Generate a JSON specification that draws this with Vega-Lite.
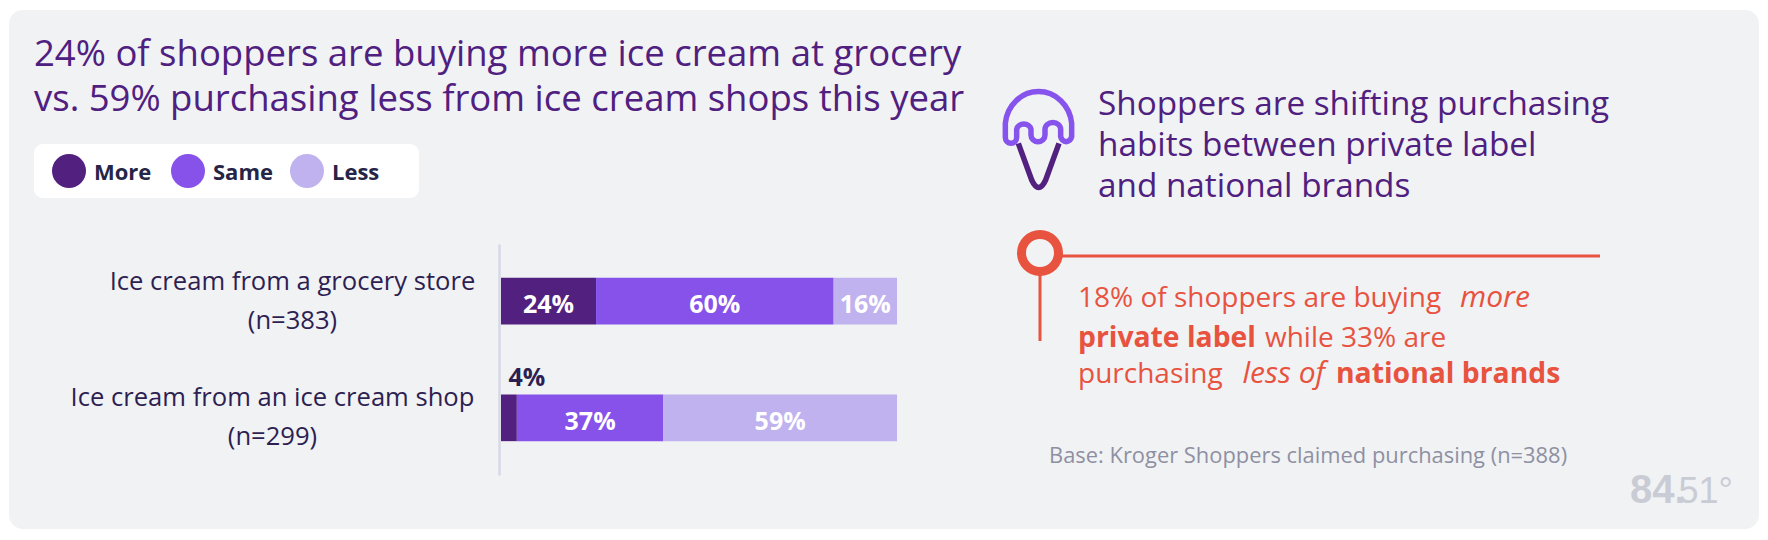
{
"$schema":"https://vega.github.io/schema/vega-lite/v6.json",
"width":1750,"height":519,
"autosize":{"type":"none"},
"padding":{"left":9,"right":9,"top":10,"bottom":11},
"background":"#ffffff",
"view":{"fill":"#f1f2f4","stroke":null,"cornerRadius":14},
"config":{"font":"Open Sans","text":{"align":"left","baseline":"alphabetic"}},
"title":{"text":["24% of shoppers are buying more ice cream at grocery","vs. 59% purchasing less from ice cream shops this year"],"anchor":"start","frame":"group","orient":"top","offset":-137,"dx":25,"font":"Open Sans","fontWeight":"normal","fontSize":36.5,"lineHeight":45,"color":"#4f2080","baseline":"alphabetic"},
"resolve":{"scale":{"x":"independent","y":"independent"},"axis":{"x":"independent","y":"independent"}},
"layer":[
{"data":{"values":[{"note":"annotations"}]},
 "layer":[
 {"mark":{"type":"rect","fill":"#ffffff","cornerRadius":9},"encoding":{"x":{"datum":1.43,"type":"quantitative","scale":{"domain":[0,100],"range":[0,1750]},"axis":null},"x2":{"datum":23.43},"y":{"datum":25.82,"type":"quantitative","scale":{"domain":[0,100],"range":[0,519]},"axis":null},"y2":{"datum":36.22}}},
 {"mark":{"type":"text","text":"Shoppers are shifting purchasing","fontSize":33.3,"fill":"#4f2080"},"encoding":{"x":{"datum":62.229,"type":"quantitative"},"y":{"datum":20.24,"type":"quantitative"}}},
 {"mark":{"type":"text","text":"habits between private label","fontSize":33.3,"fill":"#4f2080"},"encoding":{"x":{"datum":62.229,"type":"quantitative"},"y":{"datum":28.04,"type":"quantitative"}}},
 {"mark":{"type":"text","text":"and national brands","fontSize":33.3,"fill":"#4f2080"},"encoding":{"x":{"datum":62.229,"type":"quantitative"},"y":{"datum":36.04,"type":"quantitative"}}},
 {"mark":{"type":"point","shape":"M-100,0 A100,106 0 0 1 99,0 L99,40 A17,20 0 0 1 66,40 L66,18 A23,20 0 0 0 19,18 L19,35 A21,20 0 0 1 -23,35 L-23,18 A22,20 0 0 0 -66,18 L-66,42 A17,18 0 0 1 -100,42 Z","size":0.4444,"filled":false,"stroke":"#8654ec","strokeWidth":5.5,"opacity":1},"encoding":{"x":{"datum":58.838,"type":"quantitative"},"y":{"datum":21.836,"type":"quantitative"}}},
 {"mark":{"type":"point","shape":"M-61,60 L-21,170 Q0,215 21,170 L61,60","size":0.4444,"filled":false,"stroke":"#52217f","strokeWidth":5.5,"opacity":1},"encoding":{"x":{"datum":58.838,"type":"quantitative"},"y":{"datum":21.836,"type":"quantitative"}}},
 {"mark":{"type":"rule","stroke":"#e8533f","strokeWidth":3},"encoding":{"x":{"datum":59.94,"type":"quantitative"},"x2":{"datum":90.914},"y":{"datum":47.399,"type":"quantitative"}}},
 {"mark":{"type":"rule","stroke":"#e8533f","strokeWidth":3},"encoding":{"x":{"datum":58.914,"type":"quantitative"},"y":{"datum":50.6,"type":"quantitative"},"y2":{"datum":63.776}}},
 {"mark":{"type":"point","shape":"circle","size":1369,"filled":false,"stroke":"#e8533f","strokeWidth":9,"opacity":1},"encoding":{"x":{"datum":58.914,"type":"quantitative"},"y":{"datum":46.821,"type":"quantitative"}}},
 {"mark":{"type":"text","text":"18% of shoppers are buying","fontSize":28,"fill":"#e8533f"},"encoding":{"x":{"datum":61.086,"type":"quantitative"},"y":{"datum":57.225,"type":"quantitative"}}},
 {"mark":{"type":"text","text":"more","fontSize":30,"fontStyle":"italic","fill":"#e8533f"},"encoding":{"x":{"datum":82.914,"type":"quantitative"},"y":{"datum":57.225,"type":"quantitative"}}},
 {"mark":{"type":"text","text":"private label","fontSize":28.3,"fontWeight":"bold","fill":"#e8533f"},"encoding":{"x":{"datum":61.086,"type":"quantitative"},"y":{"datum":64.84,"type":"quantitative"}}},
 {"mark":{"type":"text","text":"while 33% are","fontSize":28,"fill":"#e8533f"},"encoding":{"x":{"datum":71.771,"type":"quantitative"},"y":{"datum":64.84,"type":"quantitative"}}},
 {"mark":{"type":"text","text":"purchasing","fontSize":28,"fill":"#e8533f"},"encoding":{"x":{"datum":61.086,"type":"quantitative"},"y":{"datum":71.87,"type":"quantitative"}}},
 {"mark":{"type":"text","text":"less of","fontSize":30,"fontStyle":"italic","fill":"#e8533f"},"encoding":{"x":{"datum":70.486,"type":"quantitative"},"y":{"datum":71.87,"type":"quantitative"}}},
 {"mark":{"type":"text","text":"national brands","fontSize":28.3,"fontWeight":"bold","fill":"#e8533f"},"encoding":{"x":{"datum":75.829,"type":"quantitative"},"y":{"datum":71.87,"type":"quantitative"}}},
 {"mark":{"type":"text","text":"Base: Kroger Shoppers claimed purchasing (n=388)","fontSize":21.9,"fill":"#8e90a2"},"encoding":{"x":{"datum":59.429,"type":"quantitative"},"y":{"datum":87.283,"type":"quantitative"}}},
 {"mark":{"type":"text","text":"84.","font":"Liberation Sans","fontWeight":"bold","fontSize":40,"fill":"#c9ccd4"},"encoding":{"x":{"datum":92.629,"type":"quantitative"},"y":{"datum":94.99,"type":"quantitative"}}},
 {"mark":{"type":"text","text":"51°","font":"Liberation Sans","fontSize":36,"fill":"#c9ccd4"},"encoding":{"x":{"datum":95.4,"type":"quantitative"},"y":{"datum":94.99,"type":"quantitative"}}}
 ]},
{"data":{"values":[
 {"category":"Ice cream from a grocery store|(n=383)","series":"More","rank":1,"value":24,"label":"24%"},
 {"category":"Ice cream from a grocery store|(n=383)","series":"Same","rank":2,"value":60,"label":"60%"},
 {"category":"Ice cream from a grocery store|(n=383)","series":"Less","rank":3,"value":16,"label":"16%"},
 {"category":"Ice cream from an ice cream shop|(n=299)","series":"More","rank":1,"value":4,"label":"4%"},
 {"category":"Ice cream from an ice cream shop|(n=299)","series":"Same","rank":2,"value":37,"label":"37%"},
 {"category":"Ice cream from an ice cream shop|(n=299)","series":"Less","rank":3,"value":59,"label":"59%"}
 ]},
 "encoding":{
  "y":{"field":"category","type":"nominal","sort":null,"scale":{"type":"band","range":[234,465],"paddingInner":0.6,"paddingOuter":0.29},
   "axis":{"orient":"left","title":null,"offset":-490,"ticks":false,"grid":false,"domainColor":"#d6d8e8","domainWidth":2.5,"labelExpr":"split(datum.label,'|')","labelAlign":"center","labelPadding":207,"labelBaseline":"middle","labelLineHeight":39,"labelOffset":-19.5,"labelFont":"Open Sans","labelFontSize":25.6,"labelColor":"#2e1f52","labelLimit":600,"labelOverlap":false,"encoding":{"labels":{"dx":{"condition":{"test":"indexof(datum.value,'shop')>=0","value":-20},"value":0}}}}},
  "x":{"field":"value","type":"quantitative","stack":"zero","scale":{"domain":[0,100],"range":[492,888]},"axis":null},
  "order":{"field":"rank","type":"quantitative"}
 },
 "layer":[
  {"mark":{"type":"bar"},"encoding":{"color":{"field":"series","type":"nominal","scale":{"domain":["More","Same","Less"],"range":["#52217f","#8652ea","#bfb2ee"]},
    "legend":{"title":null,"orient":"none","legendX":43,"legendY":144,"direction":"horizontal","columns":3,"gridAlign":"all","symbolType":"circle","symbolSize":1156,"symbolStrokeWidth":0,"symbolOpacity":1,"labelOffset":8,"columnPadding":16,"padding":0,"labelFont":"Open Sans","labelFontSize":22,"labelFontWeight":"bold","labelColor":"#252547","encoding":{"labels":{"dy":{"value":2}}}}}}},
  {"mark":{"type":"text","align":"center","baseline":"middle","dy":4,"fontSize":25,"fontWeight":"bold","fill":"#ffffff"},"encoding":{"x":{"field":"value","type":"quantitative","stack":"zero","bandPosition":0.5},"detail":{"field":"series"},"text":{"field":"label"},"opacity":{"condition":{"test":"datum.value<10","value":0},"value":1}}},
  {"transform":[{"filter":"datum.value<10"}],"mark":{"type":"text","align":"center","baseline":"middle","dx":18,"dy":-40,"fontSize":25,"fontWeight":"bold","fill":"#2e1f52"},"encoding":{"x":{"field":"value","type":"quantitative","stack":"zero","bandPosition":0.5},"detail":{"field":"series"},"text":{"field":"label"}}}
 ]}
]}
